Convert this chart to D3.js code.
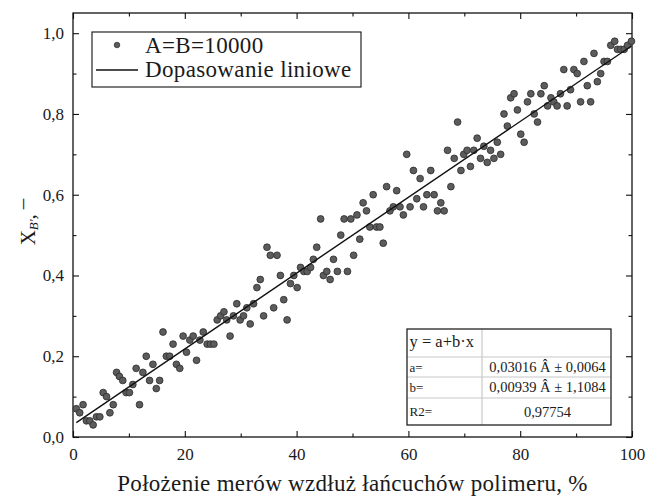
<!DOCTYPE html>
<html>
<head>
<meta charset="utf-8">
<script src="https://cdnjs.cloudflare.com/ajax/libs/d3/7.8.5/d3.min.js"></script>
<style>
body{margin:0;background:#fff;}
text{font-family:"Liberation Serif","DejaVu Serif",serif;fill:#1a1a1a;}
</style>
</head>
<body>
<svg id="chart" width="647" height="497"></svg>
<script>
// data
const xValues = [0.6,1.2,1.8,2.4,3.0,3.6,4.2,4.8,5.4,6.0,6.6,7.2,7.8,8.3,8.9,9.5,10.1,10.7,11.3,11.9,
	12.5,13.1,13.7,14.3,14.9,15.5,16.1,16.7,17.3,17.9,18.5,19.1,19.7,20.3,20.9,21.5,22.1,22.7,23.3,24.0,
	24.6,25.2,25.8,26.4,27.0,27.5,28.1,28.7,29.3,29.9,30.5,31.1,31.7,32.3,32.9,33.5,34.1,34.7,35.3,35.9,
	36.5,37.1,37.7,38.3,38.9,39.5,40.1,40.7,41.3,41.9,42.5,43.0,43.6,44.3,44.8,45.4,46.0,46.6,47.3,47.9,
	48.5,49.1,49.7,50.2,50.8,51.3,51.9,52.5,53.1,53.7,54.3,54.9,55.5,56.1,56.7,57.3,57.9,58.5,59.1,59.7,
	60.3,60.9,61.5,62.1,62.7,63.3,64.0,64.6,65.2,65.8,66.4,67.0,67.6,68.2,68.8,69.4,69.9,70.5,71.1,71.7,
	72.3,72.9,73.5,74.1,74.7,75.3,75.9,76.5,77.1,77.7,78.3,78.9,79.5,80.1,80.7,81.3,81.9,82.5,83.1,83.7,
	84.3,84.9,85.5,86.0,86.6,87.2,87.8,88.4,89.0,89.6,90.2,90.8,91.4,92.0,92.6,93.2,93.8,94.4,95.0,95.6,
	96.2,96.9,97.4,98.0,98.6,99.2,99.9];
const yValues = [0.07,0.06,0.08,0.04,0.04,0.03,0.05,0.05,0.11,0.10,0.06,0.08,0.16,0.15,0.14,0.11,0.11,0.13,0.17,0.08,
	0.16,0.20,0.14,0.18,0.12,0.14,0.26,0.20,0.20,0.23,0.18,0.17,0.25,0.21,0.24,0.25,0.19,0.24,0.26,0.23,
	0.23,0.23,0.29,0.30,0.31,0.29,0.25,0.30,0.33,0.29,0.30,0.32,0.28,0.33,0.37,0.39,0.30,0.47,0.45,0.32,
	0.45,0.40,0.34,0.29,0.38,0.40,0.37,0.42,0.41,0.41,0.42,0.44,0.47,0.54,0.40,0.41,0.39,0.44,0.41,0.50,
	0.54,0.41,0.54,0.45,0.55,0.49,0.58,0.56,0.52,0.60,0.52,0.52,0.48,0.62,0.56,0.57,0.61,0.57,0.55,0.70,
	0.57,0.66,0.59,0.64,0.57,0.60,0.66,0.60,0.56,0.58,0.56,0.71,0.62,0.69,0.78,0.66,0.70,0.71,0.67,0.71,
	0.74,0.69,0.72,0.68,0.71,0.69,0.73,0.70,0.80,0.77,0.84,0.85,0.81,0.75,0.73,0.83,0.85,0.80,0.78,0.85,
	0.87,0.82,0.84,0.83,0.82,0.85,0.91,0.82,0.86,0.91,0.90,0.83,0.93,0.87,0.83,0.95,0.88,0.90,0.93,0.93,
	0.97,0.98,0.96,0.96,0.96,0.97,0.98];

// linear fit y = a + b*x
fitA = 0.03016;
fitB = 0.00939;

xTicks = [0, 20, 40, 60, 80, 100];
xMinorTicks = [10, 30, 50, 70, 90];
yTicks = [0, 0.2, 0.4, 0.6, 0.8, 1.0];
yMinorTicks = [0.1, 0.3, 0.5, 0.7, 0.9];

legendLabels = ['A=B=10000', 'Dopasowanie liniowe'];
tableLabels = ['y = a+b·x', 'a=', 'b=', 'R2='];
tableValues = ['', '0,03016 Â ± 0,0064', '0,00939 Â ± 1,1084', '0,97754'];

xTitle = 'Położenie merów wzdłuż łańcuchów polimeru, %';

width = 647;
height = 497;
plot = {left: 73, right: 632, top: 13, bottom: 437};

const svg = d3.select('#chart');
const x = d3.scaleLinear().domain([0, 100]).range([plot.left, plot.right]);
const y = d3.scaleLinear().domain([0, 1.05]).range([plot.bottom, plot.top]);

const plLocale = d3.formatLocale({decimal: ',', thousands: ' ', grouping: [3], currency: ['', ' zł']});
const fmt1 = plLocale.format('.1f');

function styleAxis(g){
	g.select('.domain').remove();
	g.selectAll('line').attr('stroke', '#111').attr('stroke-width', 1.1);
	g.selectAll('text').attr('font-family', '"Liberation Serif",serif').attr('font-size', 17).attr('fill', '#1a1a1a');
}

// major ticks (inward), labels on bottom / left
svg.append('g').attr('transform', `translate(0,${plot.bottom})`)
	.call(d3.axisBottom(x).tickValues(xTicks).tickSize(-6).tickPadding(11).tickFormat(d3.format('d')))
	.call(styleAxis);
svg.append('g').attr('transform', `translate(${plot.left},0)`)
	.call(d3.axisLeft(y).tickValues(yTicks).tickSize(-6).tickPadding(9).tickFormat(fmt1))
	.call(styleAxis);
svg.append('g').attr('transform', `translate(0,${plot.top})`)
	.call(d3.axisTop(x).tickValues(xTicks).tickSize(-6).tickFormat(''))
	.call(styleAxis);
svg.append('g').attr('transform', `translate(${plot.right},0)`)
	.call(d3.axisRight(y).tickValues(yTicks).tickSize(-6).tickFormat(''))
	.call(styleAxis);

// minor ticks
svg.append('g').attr('transform', `translate(0,${plot.bottom})`)
	.call(d3.axisBottom(x).tickValues(xMinorTicks).tickSize(-3.5).tickFormat(''))
	.call(styleAxis);
svg.append('g').attr('transform', `translate(0,${plot.top})`)
	.call(d3.axisTop(x).tickValues(xMinorTicks).tickSize(-3.5).tickFormat(''))
	.call(styleAxis);
svg.append('g').attr('transform', `translate(${plot.left},0)`)
	.call(d3.axisLeft(y).tickValues(yMinorTicks).tickSize(-3.5).tickFormat(''))
	.call(styleAxis);
svg.append('g').attr('transform', `translate(${plot.right},0)`)
	.call(d3.axisRight(y).tickValues(yMinorTicks).tickSize(-3.5).tickFormat(''))
	.call(styleAxis);

// frame
svg.append('rect')
	.attr('x', plot.left).attr('y', plot.top)
	.attr('width', plot.right - plot.left).attr('height', plot.bottom - plot.top)
	.attr('fill', 'none').attr('stroke', '#111').attr('stroke-width', 1.3);

// points
const pts = xValues.map((v, i) => ({x: v, y: yValues[i]}));
svg.append('g').selectAll('circle').data(pts).enter().append('circle')
	.attr('cx', d => x(d.x)).attr('cy', d => y(d.y)).attr('r', 3.4)
	.attr('fill', '#5c5c5c').attr('stroke', '#2b2b2b').attr('stroke-width', 0.8);

// fit line
const xExt = d3.extent(xValues);
svg.append('line')
	.attr('x1', x(xExt[0])).attr('y1', y(fitA + fitB * xExt[0]))
	.attr('x2', x(xExt[1])).attr('y2', y(fitA + fitB * xExt[1]))
	.attr('stroke', '#111').attr('stroke-width', 1.4);

// legend
const leg = svg.append('g');
leg.append('rect').attr('x', 92).attr('y', 32).attr('width', 269).attr('height', 55)
	.attr('fill', '#fff').attr('stroke', '#111').attr('stroke-width', 1.1);
leg.append('circle').attr('cx', 117).attr('cy', 45).attr('r', 2.8)
	.attr('fill', '#5c5c5c').attr('stroke', '#2b2b2b').attr('stroke-width', 0.7);
leg.append('line').attr('x1', 96).attr('x2', 138).attr('y1', 70).attr('y2', 70)
	.attr('stroke', '#111').attr('stroke-width', 1.4);
leg.selectAll('text.lg').data(legendLabels).enter().append('text')
	.attr('class', 'lg')
	.attr('x', 145).attr('y', (d, i) => 52.5 + i * 24.5)
	.attr('font-size', 23).attr('letter-spacing', 0.35)
	.text(d => d);

// fit table
const tbl = {left: 407, mid: 482, right: 611, rows: [329, 357, 377, 398, 425]};
const tg = svg.append('g');
tg.append('rect').attr('x', tbl.left).attr('y', tbl.rows[0])
	.attr('width', tbl.right - tbl.left).attr('height', tbl.rows[4] - tbl.rows[0])
	.attr('fill', '#fff');
tg.selectAll('line.rowl').data(tbl.rows.slice(1, 4)).enter().append('line')
	.attr('x1', tbl.left).attr('x2', tbl.right).attr('y1', d => d).attr('y2', d => d)
	.attr('stroke', '#c8c8c8').attr('stroke-width', 1.2);
tg.append('line').attr('x1', tbl.mid).attr('x2', tbl.mid).attr('y1', tbl.rows[0]).attr('y2', tbl.rows[4])
	.attr('stroke', '#c8c8c8').attr('stroke-width', 1.2);
tg.append('rect').attr('x', tbl.left).attr('y', tbl.rows[0])
	.attr('width', tbl.right - tbl.left).attr('height', tbl.rows[4] - tbl.rows[0])
	.attr('fill', 'none').attr('stroke', '#222').attr('stroke-width', 1.3);
const labelBase = [347, 371.5, 391.5, 416];
tg.selectAll('text.tl').data(tableLabels).enter().append('text')
	.attr('x', tbl.left + 2.5).attr('y', (d, i) => labelBase[i])
	.attr('font-size', (d, i) => i == 0 ? 16.5 : 13)
	.text(d => d);
tg.selectAll('text.tv').data(tableValues).enter().append('text')
	.attr('x', (tbl.mid + tbl.right) / 2 + 1).attr('y', (d, i) => labelBase[i] + 0.5)
	.attr('text-anchor', 'middle')
	.attr('font-size', 14.5)
	.text(d => d);

// axis titles
svg.append('text')
	.attr('x', (plot.left + plot.right) / 2).attr('y', 491)
	.attr('text-anchor', 'middle').attr('font-size', 23).attr('letter-spacing', 0.3)
	.text(xTitle);

const yt = svg.append('text')
	.attr('transform', 'translate(35,222) rotate(-90)')
	.attr('text-anchor', 'middle').attr('font-size', 21);
yt.append('tspan').text('X');
yt.append('tspan').attr('font-size', 13).attr('font-style', 'italic').attr('dy', 3).text('B′');
yt.append('tspan').attr('dy', -3).text(',');
yt.append('tspan').attr('dx', 5).attr('dy', -6).text('–');
</script>
</body>
</html>
